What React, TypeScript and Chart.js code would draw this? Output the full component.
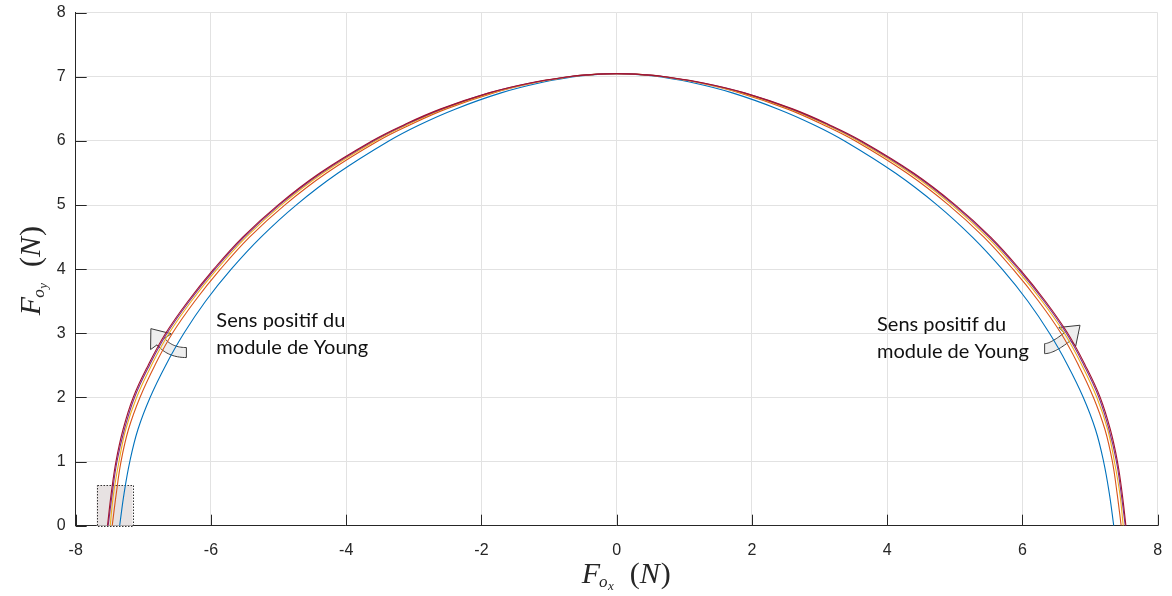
import React, { useEffect, useRef } from "react";
import { Chart, registerables } from "chart.js";

Chart.register(...registerables);

// ---- Data (half-widths |Fox| of each arc at each Foy level) ----
const Y_LEVELS = [0, 0.5, 1, 1.5, 2, 2.5, 3, 3.5, 4, 4.5, 5, 5.5, 6, 6.25, 6.5, 6.75, 6.9, 7.0, 7.03, 7.05];
const HALF_BLUE = [7.35, 7.285, 7.2, 7.08, 6.9, 6.67, 6.4, 6.08, 5.7, 5.26, 4.74, 4.12, 3.37, 2.92, 2.38, 1.71, 1.16, 0.63, 0.38, 0];
const HALF_ORANGE = [7.46, 7.4, 7.33, 7.22, 7.05, 6.83, 6.57, 6.24, 5.86, 5.43, 4.91, 4.29, 3.53, 3.06, 2.52, 1.82, 1.25, 0.69, 0.42, 0];
const HALF_YELLOW = [7.49, 7.44, 7.36, 7.26, 7.1, 6.88, 6.62, 6.29, 5.91, 5.48, 4.96, 4.34, 3.57, 3.1, 2.56, 1.85, 1.27, 0.7, 0.43, 0];
const HALF_PURPLE = [7.52, 7.46, 7.39, 7.28, 7.13, 6.91, 6.65, 6.32, 5.94, 5.51, 4.99, 4.37, 3.6, 3.13, 2.58, 1.88, 1.29, 0.71, 0.44, 0];
const HALF_RED = [7.53, 7.475, 7.405, 7.3, 7.15, 6.93, 6.67, 6.34, 5.96, 5.53, 5.01, 4.39, 3.62, 3.15, 2.6, 1.89, 1.3, 0.72, 0.44, 0];

const SERIES_HALVES = [HALF_BLUE, HALF_ORANGE, HALF_YELLOW, HALF_PURPLE, HALF_RED];
const SERIES_NAMES = ["E1", "E2", "E3", "E4", "E5"];
const SERIES_COLORS = ["#0072BD", "#D95319", "#EDB120", "#7E2F8E", "#A2142F"];

const X_TICKS = [-8, -6, -4, -2, 0, 2, 4, 6, 8];
const Y_TICKS = [0, 1, 2, 3, 4, 5, 6, 7, 8];

const ZOOM_BOX_X = [-7.69, -7.16];
const ZOOM_BOX_Y = [0, 0.634];

const NOTE_LINES = ["Sens positif du", "module de Young"];
const NOTE_ANCHORS = [
  [-5.92, 3.1],
  [3.85, 3.04],
];
const ARROW_ANCHORS = [
  [-6.6, 2.8],
  [6.6, 2.9],
];

// arrow shapes as pixel offsets from the anchor
const ARROW_SHAPES = [
  { t: [16, 6.4], c: [-0.5, 6.4], b: [-9.5, -4.5], tip: [-19.5, -17.5], bw: 5, hw: 13 },
  { t: [-18.4, 8.9], c: [-10.7, 8.9], b: [4.3, -3.0], tip: [17, -14.5], bw: 5, hw: 12.5 },
];

const AXIS_COLOR = "#262626";
const GRID_COLOR = "#e2e2e2";
const TICK_FONT = { family: "'Liberation Sans', Arial, sans-serif", size: 16 };

function buildPoints(half: number[]) {
  const pts: { x: number; y: number }[] = [];
  for (let i = 0; i < Y_LEVELS.length; i++) pts.push({ x: -half[i], y: Y_LEVELS[i] });
  for (let i = Y_LEVELS.length - 2; i >= 0; i--) pts.push({ x: half[i], y: Y_LEVELS[i] });
  return pts;
}

type Seg = { t: string; font: string; dy: number; gap?: number };
const SERIF = "'Liberation Serif', 'Times New Roman', serif";
function titleSegs(sub: string): Seg[] {
  return [
    { t: "F", font: `italic 30px ${SERIF}`, dy: 0, gap: -1 },
    { t: "o", font: `italic 17px ${SERIF}`, dy: 4, gap: 0.5 },
    { t: sub, font: `italic 13px ${SERIF}`, dy: 7, gap: 16 },
    { t: "(", font: `30px ${SERIF}`, dy: 0 },
    { t: "N", font: `italic 30px ${SERIF}`, dy: 0, gap: 1 },
    { t: ")", font: `30px ${SERIF}`, dy: 0 },
  ];
}
function drawSegs(ctx: CanvasRenderingContext2D, segs: Seg[], x: number, y: number) {
  let cx = x;
  for (const s of segs) {
    ctx.font = s.font;
    ctx.fillText(s.t, cx, y + s.dy);
    cx += ctx.measureText(s.t).width + (s.gap || 0);
  }
}

function drawArrow(ctx: CanvasRenderingContext2D, ax: number, ay: number, a: any) {
  const T = [ax + a.t[0], ay + a.t[1]];
  const C = [ax + a.c[0], ay + a.c[1]];
  const B = [ax + a.b[0], ay + a.b[1]];
  const TIP = [ax + a.tip[0], ay + a.tip[1]];
  const n = 20;
  const sA: number[][] = [];
  const sB: number[][] = [];
  for (let i = 0; i <= n; i++) {
    const u = i / n;
    const px = (1 - u) * (1 - u) * T[0] + 2 * (1 - u) * u * C[0] + u * u * B[0];
    const py = (1 - u) * (1 - u) * T[1] + 2 * (1 - u) * u * C[1] + u * u * B[1];
    const dx = 2 * (1 - u) * (C[0] - T[0]) + 2 * u * (B[0] - C[0]);
    const dy = 2 * (1 - u) * (C[1] - T[1]) + 2 * u * (B[1] - C[1]);
    const l = Math.hypot(dx, dy) || 1;
    const nx = -dy / l;
    const ny = dx / l;
    sA.push([px + nx * a.bw, py + ny * a.bw]);
    sB.push([px - nx * a.bw, py - ny * a.bw]);
  }
  const ddx = TIP[0] - B[0];
  const ddy = TIP[1] - B[1];
  const dl = Math.hypot(ddx, ddy) || 1;
  const perp = [-ddy / dl, ddx / dl];
  ctx.save();
  ctx.beginPath();
  ctx.moveTo(sA[0][0], sA[0][1]);
  for (let i = 1; i < sA.length; i++) ctx.lineTo(sA[i][0], sA[i][1]);
  ctx.lineTo(B[0] + perp[0] * a.hw, B[1] + perp[1] * a.hw);
  ctx.lineTo(TIP[0], TIP[1]);
  ctx.lineTo(B[0] - perp[0] * a.hw, B[1] - perp[1] * a.hw);
  for (let i = sB.length - 1; i >= 0; i--) ctx.lineTo(sB[i][0], sB[i][1]);
  ctx.closePath();
  ctx.fillStyle = "#eeeeee";
  ctx.fill();
  ctx.strokeStyle = "#3a3a3a";
  ctx.lineWidth = 1;
  ctx.lineJoin = "miter";
  ctx.stroke();
  ctx.restore();
}

const decorPlugin = {
  id: "decor",
  beforeDatasetsDraw(chart: any) {
    const { ctx, scales } = chart;
    const xs = scales.x;
    const ys = scales.y;
    const x0 = xs.getPixelForValue(ZOOM_BOX_X[0]);
    const x1 = xs.getPixelForValue(ZOOM_BOX_X[1]);
    const y0 = ys.getPixelForValue(ZOOM_BOX_Y[0]);
    const y1 = ys.getPixelForValue(ZOOM_BOX_Y[1]);
    ctx.save();
    ctx.fillStyle = "#e7e2e2";
    ctx.fillRect(x0, y1, x1 - x0, y0 - y1);
    ctx.setLineDash([1.5, 1.5]);
    ctx.strokeStyle = "#333";
    ctx.lineWidth = 1;
    ctx.strokeRect(Math.round(x0) + 0.5, Math.round(y1) + 0.5, Math.round(x1 - x0), Math.round(y0 - y1));
    ctx.restore();
    ARROW_ANCHORS.forEach((p, i) => {
      drawArrow(ctx, xs.getPixelForValue(p[0]), ys.getPixelForValue(p[1]), ARROW_SHAPES[i]);
    });
  },
  afterDraw(chart: any) {
    const { ctx, scales, chartArea } = chart;
    const xs = scales.x;
    const ys = scales.y;
    ctx.save();
    ctx.strokeStyle = AXIS_COLOR;
    ctx.lineWidth = 1;
    ctx.beginPath();
    X_TICKS.forEach((v) => {
      const px = Math.round(xs.getPixelForValue(v)) + 0.5;
      ctx.moveTo(px, chartArea.bottom);
      ctx.lineTo(px, chartArea.bottom - 11);
    });
    Y_TICKS.forEach((v) => {
      const py = Math.round(ys.getPixelForValue(v)) + 0.5;
      ctx.moveTo(chartArea.left, py);
      ctx.lineTo(chartArea.left + 11, py);
    });
    ctx.stroke();
    ctx.fillStyle = "#111";
    ctx.font = "20px Lato, 'Open Sans', sans-serif";
    ctx.textBaseline = "alphabetic";
    ctx.textAlign = "left";
    NOTE_ANCHORS.forEach((p) => {
      const px = xs.getPixelForValue(p[0]);
      const py = ys.getPixelForValue(p[1]);
      NOTE_LINES.forEach((line, j) => ctx.fillText(line, px, py + j * 27));
    });
    ctx.fillStyle = AXIS_COLOR;
    const cx = (chartArea.left + chartArea.right) / 2;
    const cy = (chartArea.top + chartArea.bottom) / 2;
    drawSegs(ctx, titleSegs("x"), cx - 35, chartArea.bottom + 57.5);
    ctx.translate(chartArea.left - 35.5, cy + 46);
    ctx.rotate(-Math.PI / 2);
    drawSegs(ctx, titleSegs("y"), 0, 0);
    ctx.restore();
  },
};

function zeroPad(s: any) {
  s.paddingTop = 0;
  s.paddingBottom = 0;
  s.paddingLeft = 0;
  s.paddingRight = 0;
}

export default function App() {
  const ref = useRef<HTMLCanvasElement>(null);
  useEffect(() => {
    if (!ref.current) return;
    const datasets = SERIES_HALVES.map((half, i) => ({
      label: SERIES_NAMES[i],
      data: buildPoints(half),
      borderColor: SERIES_COLORS[i],
      backgroundColor: SERIES_COLORS[i],
      borderWidth: 1.1,
      pointRadius: 0,
      tension: 0.4,
      fill: false,
      order: SERIES_HALVES.length - i,
    }));
    const chart = new Chart(ref.current, {
      type: "line",
      data: { datasets },
      plugins: [decorPlugin],
      options: {
        animation: false,
        responsive: false,
        devicePixelRatio: 1,
        parsing: false,
        layout: { padding: { left: 0, right: 14.3, top: 12.7, bottom: 0 } },
        plugins: { legend: { display: false }, tooltip: { enabled: false }, title: { display: false } },
        scales: {
          x: {
            type: "linear",
            min: -8,
            max: 8,
            afterBuildTicks: (s: any) => {
              s.ticks = X_TICKS.map((v) => ({ value: v }));
            },
            afterFit: (s: any) => {
              s.height = 70.3;
              zeroPad(s);
            },
            ticks: {
              font: TICK_FONT,
              color: AXIS_COLOR,
              padding: 15,
              autoSkip: false,
              maxRotation: 0,
              callback: (v: any) => String(v),
            },
            grid: { color: GRID_COLOR, lineWidth: 1, drawTicks: false },
            border: { display: true, color: AXIS_COLOR, width: 1 },
          },
          y: {
            type: "linear",
            min: 0,
            max: 8,
            afterBuildTicks: (s: any) => {
              s.ticks = Y_TICKS.map((v) => ({ value: v }));
            },
            afterFit: (s: any) => {
              s.width = 75.7;
              zeroPad(s);
            },
            ticks: {
              font: TICK_FONT,
              color: AXIS_COLOR,
              padding: 10,
              autoSkip: false,
              callback: (v: any) => String(v),
            },
            grid: { color: GRID_COLOR, lineWidth: 1, drawTicks: false },
            border: { display: true, color: AXIS_COLOR, width: 1 },
          },
        },
      } as any,
    });
    return () => chart.destroy();
  }, []);
  return (
    <div style={{ position: "absolute", left: 0, top: 0, width: 1172, height: 596, background: "#fff" }}>
      <canvas ref={ref} width={1172} height={596} style={{ display: "block", width: 1172, height: 596 }} />
    </div>
  );
}
